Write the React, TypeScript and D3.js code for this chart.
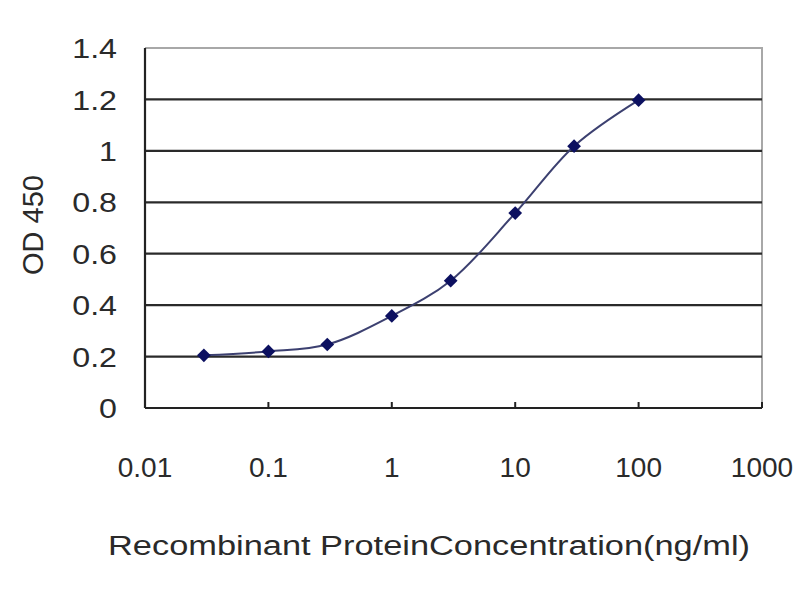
import { useEffect, useRef } from "react";
import * as d3 from "d3";

const concentrations = [0.03, 0.1, 0.3, 1, 3, 10, 30, 100];
const odValues = [0.205, 0.22, 0.247, 0.358, 0.495, 0.758, 1.018, 1.197];
const xTicks = [0.01, 0.1, 1, 10, 100, 1000];
const xTickLabels = ["0.01", "0.1", "1", "10", "100", "1000"];
const yTicks = [0, 0.2, 0.4, 0.6, 0.8, 1, 1.2, 1.4];

const WIDTH = 800;
const HEIGHT = 600;

const App = () => {
  const svgRef = useRef<SVGSVGElement | null>(null);

  useEffect(() => {
    if (!svgRef.current) return;
    const margin = { top: 48, right: 38, bottom: 192, left: 145 };
    const innerWidth = WIDTH - margin.left - margin.right;
    const innerHeight = HEIGHT - margin.top - margin.bottom;

    const svg = d3.select(svgRef.current);
    svg.selectAll("*").remove();

    const x = d3.scaleLog().domain([0.01, 1000]).range([0, innerWidth]);
    const y = d3.scaleLinear().domain([0, 1.4]).range([innerHeight, 0]);

    const font = "'Liberation Sans', Arial, sans-serif";
    const textColor = "#2a2a2a";

    const g = svg
      .append("g")
      .attr("transform", `translate(${margin.left}, ${margin.top})`);

    // plot area border (top/right, light gray)
    g.append("path")
      .attr("d", `M0,0H${innerWidth}V${innerHeight}`)
      .attr("fill", "none")
      .attr("stroke", "#a8a8a8")
      .attr("stroke-width", 2);

    // Grid lines
    g.append("g")
      .selectAll("line")
      .data(yTicks.filter((v) => v > 0 && v < 1.4))
      .join("line")
      .attr("x1", 0)
      .attr("x2", innerWidth)
      .attr("y1", (d) => y(d))
      .attr("y2", (d) => y(d))
      .attr("stroke", "#2a2a2a")
      .attr("stroke-width", 2.2);

    // Axes
    g.append("line")
      .attr("x1", 0)
      .attr("x2", 0)
      .attr("y1", 0)
      .attr("y2", innerHeight)
      .attr("stroke", "#222")
      .attr("stroke-width", 2.2);
    g.append("line")
      .attr("x1", 0)
      .attr("x2", innerWidth)
      .attr("y1", innerHeight)
      .attr("y2", innerHeight)
      .attr("stroke", "#222")
      .attr("stroke-width", 2.2);

    // x tick marks (inside, upward)
    g.append("g")
      .selectAll("line")
      .data(xTicks)
      .join("line")
      .attr("x1", (d) => x(d))
      .attr("x2", (d) => x(d))
      .attr("y1", innerHeight)
      .attr("y2", innerHeight - 6)
      .attr("stroke", "#222")
      .attr("stroke-width", 2);

    // y tick labels (slightly wide face in the original)
    g.append("g")
      .selectAll("text")
      .data(yTicks)
      .join("text")
      .attr("transform", (d) => `translate(-28, ${y(d)}) scale(1.15, 1)`)
      .attr("dy", "0.36em")
      .attr("text-anchor", "end")
      .attr("font-family", font)
      .attr("font-size", 28)
      .attr("fill", textColor)
      .text((d) => String(d));

    // x tick labels
    g.append("g")
      .selectAll("text")
      .data(xTicks)
      .join("text")
      .attr("x", (d) => x(d))
      .attr("y", innerHeight + 69)
      .attr("text-anchor", "middle")
      .attr("font-family", font)
      .attr("font-size", 28)
      .attr("fill", textColor)
      .text((_d, i) => xTickLabels[i]);

    // Series line
    const line = d3
      .line<number>()
      .x((_d, i) => x(concentrations[i]))
      .y((d) => y(d))
      .curve(d3.curveCatmullRom.alpha(0.5));

    g.append("path")
      .datum(odValues)
      .attr("d", line)
      .attr("fill", "none")
      .attr("stroke", "#3c4070")
      .attr("stroke-width", 2);

    // Diamond markers
    const diamond = d3.symbol().type(d3.symbolDiamond2).size(120);
    g.append("g")
      .selectAll("path")
      .data(odValues)
      .join("path")
      .attr("d", diamond)
      .attr("transform", (d, i) => `translate(${x(concentrations[i])}, ${y(d)})`)
      .attr("fill", "#0c1060");

    // Axis titles
    svg
      .append("text")
      .attr("x", 108)
      .attr("y", 555)
      .attr("textLength", 642)
      .attr("lengthAdjust", "spacingAndGlyphs")
      .attr("font-family", font)
      .attr("font-size", 27)
      .attr("fill", textColor)
      .text("Recombinant ProteinConcentration(ng/ml)");

    svg
      .append("text")
      .attr("transform", `translate(43, 225) rotate(-90)`)
      .attr("text-anchor", "middle")
      .attr("font-family", font)
      .attr("font-size", 29)
      .attr("fill", textColor)
      .text("OD 450");
  }, []);

  return (
    <svg
      ref={svgRef}
      width={WIDTH}
      height={HEIGHT}
      style={{ position: "fixed", left: 0, top: 0, background: "#fff" }}
    />
  );
};

export default App;
